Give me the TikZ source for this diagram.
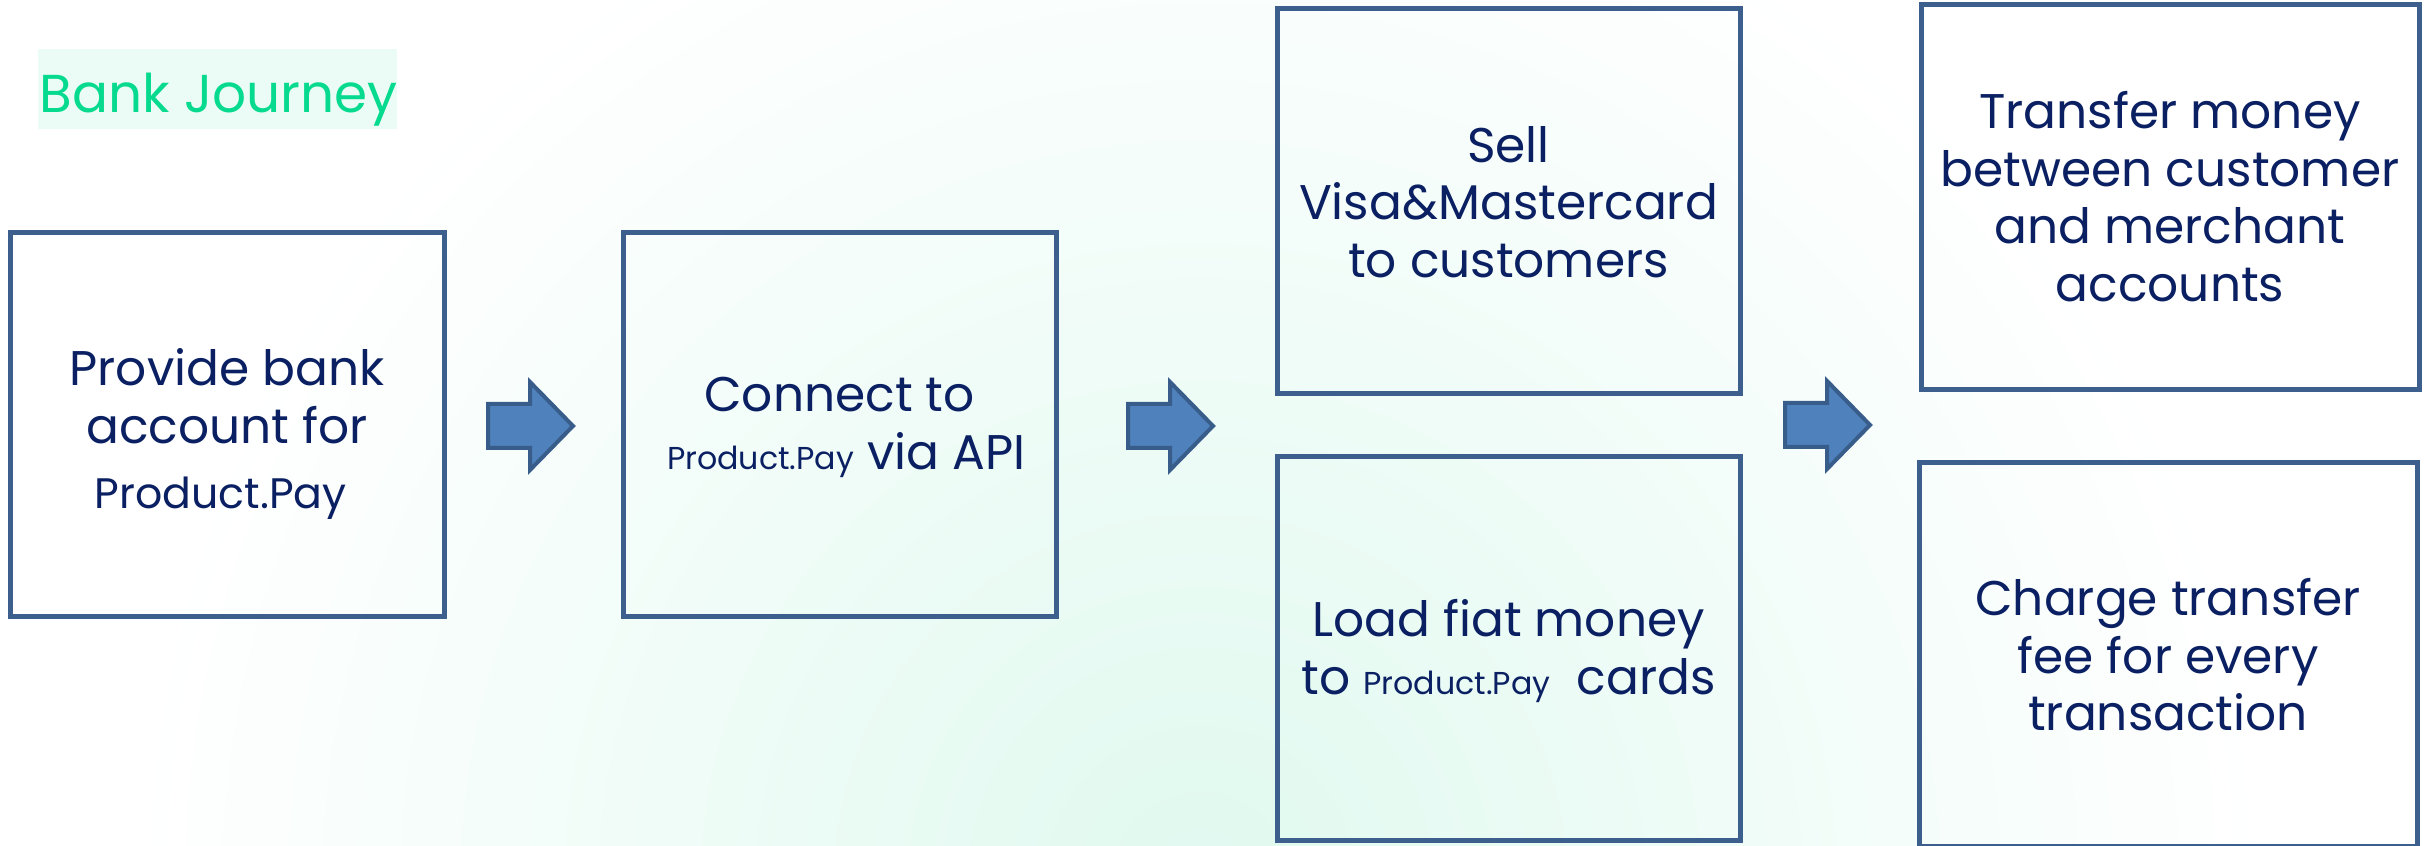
\documentclass[tikz,border=0pt]{standalone}
\usepackage{fontspec}
\setmainfont{Poppins}
\usetikzlibrary{fit}
\definecolor{navy}{HTML}{0A2063}
\definecolor{boxline}{HTML}{3C5F8E}
\definecolor{arrfill}{HTML}{4F81BD}
\definecolor{arrline}{HTML}{385D8A}
\definecolor{mint}{HTML}{E0F9EF}
\definecolor{titlebg}{HTML}{EBFCF6}
\definecolor{titlefg}{HTML}{06DA8E}
\newcommand\smallpp{\fontsize{9.5}{17.25}\selectfont}
\newcommand\midpp{\fontsize{12.8}{17.25}\selectfont}
\begin{document}
\begin{tikzpicture}[x=0.3pt,y=-0.3pt,
  box/.style={draw=boxline, line width=1.5pt, inner sep=0pt},
  boxtext/.style={inner sep=0pt, align=center, text=navy, yshift=-0.7pt,
    font=\fontsize{14.6}{17.25}\selectfont},
  blk/.style={fill=arrfill, draw=arrline, line width=1.2pt, line join=miter},
  barrow/.pic={\path[blk] (0,-22) -- ++(42,0) -- ++(0,-22) -- ++(43,44) -- ++(-43,44) -- ++(0,-22) -- ++(-42,0) -- cycle;}
]
\useasboundingbox (0,0) rectangle (2430,846);
\fill[white] (0,0) rectangle (2430,846);
\shade[inner color=mint, outer color=white] (1200,880) circle [radius=320pt];

% title
\node[fill=titlebg, inner sep=0pt, fit={(38,49)(397,129)}] (tbg) {};
\node[anchor=base west, inner sep=0pt, text=titlefg, font=\fontsize{16}{18}\selectfont] (title) at (39,113) {Bank Journey};

% boxes
\node[box, fit={(10,233)(444,617)}] (b1) {};
\node[box, fit={(623,233)(1056,617)}] (b2) {};
\node[box, fit={(1277,9)(1740,394)}] (b3) {};
\node[box, fit={(1277,457)(1740,840)}] (b4) {};
\node[box, fit={(1921,5)(2419,390)}] (b5) {};
\node[box, fit={(1919,463)(2417,846)}] (b6) {};

% box texts
\node[boxtext, yshift=-2pt] (t1) at (b1.center) {Provide bank\\account for\\[2.4pt]{\midpp Product.Pay}\hspace*{3.8pt}};
\node[boxtext] (t2) at (b2.center) {Connect to\\\hspace*{4pt}{\smallpp Product.Pay} via API};
\node[boxtext, yshift=0.6pt] (t3) at (b3.center) {Sell\\Visa\&Mastercard\\to customers};
\node[boxtext] (t4) at (b4.center) {Load fiat money\\to\hspace{4pt}{\smallpp Product.Pay}\hspace{4pt} cards};
\node[boxtext, yshift=1pt] (t5) at (b5.center) {Transfer money\\between customer\\and merchant\\accounts};
\node[boxtext, yshift=0.6pt] (t6) at (b6.center) {Charge transfer\\fee for every\\transaction};

% block arrows
\pic at (488,426) {barrow};
\pic at (1128,426) {barrow};
\pic at (1785,425) {barrow};
\end{tikzpicture}
\end{document}
